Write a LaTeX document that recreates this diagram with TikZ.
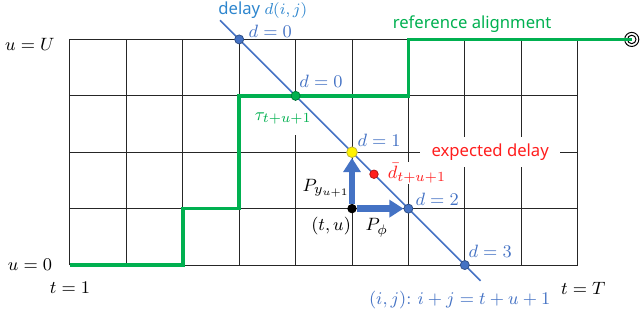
\documentclass[tikz,border=0pt]{standalone}
\usepackage{fontspec}
\newfontfamily\alignfont{Noto Sans}
\usetikzlibrary{arrows.meta}
\definecolor{dblue}{RGB}{68,114,196}
\definecolor{lblue}{RGB}{46,134,206}
\definecolor{rgreen}{RGB}{0,176,80}
\definecolor{ered}{RGB}{255,30,30}
\tikzset{
  mlab/.style={font=\fontsize{9.4}{10}\selectfont},
  slab/.style={font=\fontsize{8.4}{10}\selectfont\alignfont},
  dot/.style={circle, draw=#1!70!black, fill=#1, inner sep=0, minimum size=0.16cm},
  move/.style={dblue, line width=0.12cm, -{Triangle[width=0.3cm,length=0.25cm]}}
}
\begin{document}
\begin{tikzpicture}[mlab]
  \useasboundingbox ({-1.241}, -1.011) rectangle ({10.124}, 4.699);
  % lattice
  \draw[line width=0.5pt, black!85] (0,0) grid (9,4);
  % labels that break the lattice
  \node[slab, fill=white, text=ered, inner xsep=0.2cm, minimum height=0.44cm] (expd) at ({7.45}, 2.0) {expected delay};
  \node[fill=white, text=rgreen, inner sep=1pt, minimum height=0.6cm] (tau) at ({3.78}, 2.6) {$\tau_{t+u+1}$};
  \node[fill=white, text=ered, inner sep=0.5pt] (dbar) at ({6.15}, 1.63) {$\bar{d}_{t+u+1}$};
  % reference alignment
  \node[circle, draw, line width=0.5pt, minimum size=0.25cm, inner sep=0] (goal) at ({9.96}, 4) {};
  \draw[line width=0.5pt] (goal.center) circle (0.075);
  \draw[rgreen, line width=1.8pt]
  (0,0) -- (2,0) -- (2,1) -- (3,1) -- (3,3) -- (6,3) -- (6,4) -- (goal.center);
  \node[slab, text=rgreen] (refl) at ({7.13}, 4.27) {reference alignment};
  % line of constant i+j
  \coordinate (diagA) at ({2.66}, 4.34);
  \coordinate (diagB) at ({7.28}, -0.28);
  \draw[dblue, line width=0.8pt] (diagA) -- (diagB);
  \node[dot=dblue] (d0) at (3,4) {};
  \node[dot=rgreen] (dg) at (4,3) {};
  \node[dot=yellow, minimum size=0.19cm] (yel) at (5,2) {};
  \node[dot=dblue] (d2) at (6,1) {};
  \node[dot=dblue] (d3) at (7,0) {};
  \node[dot=ered, minimum size=0.15cm] (red) at ({5.39}, 1.61) {};
  \node[dot=black, minimum size=0.15cm] (tu) at (5,1) {};
  \draw[move] (tu) -- (yel);
  \draw[move] (tu) -- (d2);
  % text
  \node[slab, text=lblue] (delay) at ({3.42}, 4.52) {delay $d(i,j)$};
  \node[text=dblue] at ({3.55}, 4.15) {$d=0$};
  \node[text=dblue] at ({4.45}, 3.26) {$d=0$};
  \node[text=dblue] at ({5.48}, 2.22) {$d=1$};
  \node[text=dblue] at ({6.51}, 1.17) {$d=2$};
  \node[text=dblue] at ({7.45}, 0.25) {$d=3$};
  \node[text=dblue] at ({6.91}, -0.62) {$(i,j)\colon\, i+j=t+u+1$};
  \node at ({4.54}, 1.36) {$P_{y_{u+1}}$};
  \node at ({4.63}, 0.69) {$(t,u)$};
  \node at ({5.44}, 0.66) {$P_{\phi}$};
  \node at ({-0.71}, 3.92) {$u=U$};
  \node at ({-0.71}, 0.0) {$u=0$};
  \node at (0, -0.41) {$t=1$};
  \node at ({9.1}, -0.41) {$t=T$};
\end{tikzpicture}
\end{document}
